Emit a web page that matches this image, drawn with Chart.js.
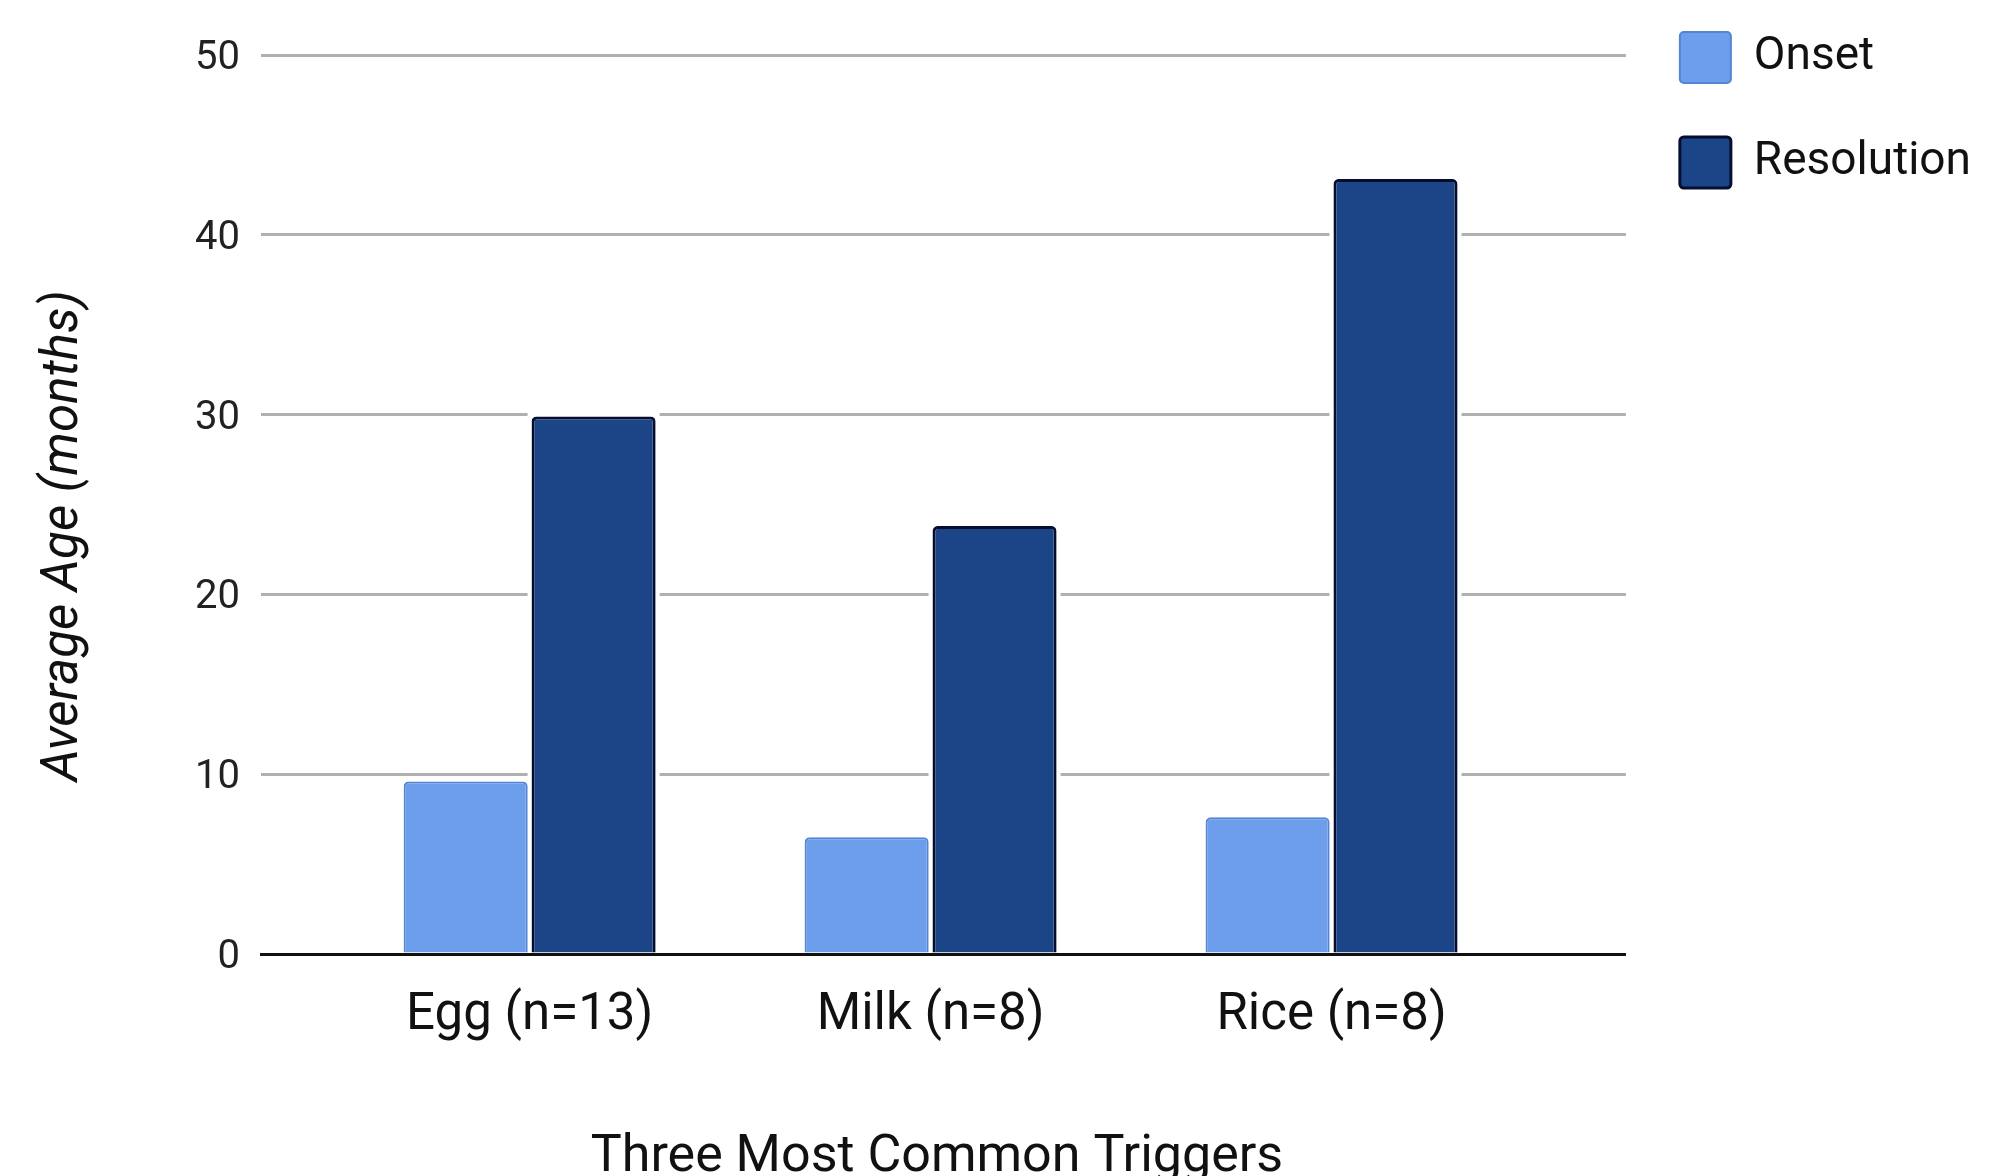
<!DOCTYPE html>
<html>
<head>
<meta charset="utf-8">
<script src="https://cdn.jsdelivr.net/npm/chart.js@4.4.1/dist/chart.umd.min.js"></script>
<style>
  html, body { margin: 0; padding: 0; background: #ffffff; }
  #frame { position: relative; width: 1999px; height: 1176px; overflow: hidden; background: #ffffff; }
  #holder { position: absolute; left: 0; top: -22px; width: 1999px; height: 1232px; }
</style>
</head>
<body>
<div id="frame"><div id="holder"><canvas id="chart"></canvas></div></div>
<script>
// Trigger foods and the mean age (months) at onset and at resolution
const categories = ['Egg (n=13)', 'Milk (n=8)', 'Rice (n=8)'];
const onsetAge = [9.6, 6.5, 7.6];
const resolutionAge = [29.9, 23.8, 43.1];
const yTicks = [0, 10, 20, 30, 40, 50];
const seriesNames = ['Onset', 'Resolution'];

const FONT = 'Roboto';

// white clearance around each bar so gridlines stop short of the bars
const barClearance = {
  id: 'barClearance',
  beforeDatasetsDraw(chart) {
    const ctx = chart.ctx;
    const gap = 4;
    ctx.save();
    ctx.fillStyle = '#ffffff';
    chart.data.datasets.forEach((ds, di) => {
      const meta = chart.getDatasetMeta(di);
      if (meta.hidden) return;
      meta.data.forEach(el => {
        const p = el.getProps(['x', 'y', 'base', 'width'], true);
        ctx.fillRect(p.x - p.width / 2 - gap, p.y - gap, p.width + gap * 2, p.base - p.y + gap - 2);
      });
    });
    ctx.restore();
  }
};

function draw() {
  const ctx = document.getElementById('chart').getContext('2d');
  new Chart(ctx, {
    type: 'bar',
    data: {
      datasets: [
        {
          label: seriesNames[0],
          data: onsetAge.map((v, i) => ({ x: i, y: v })),
          backgroundColor: '#6d9eeb',
          borderColor: '#5484d4',
          borderWidth: 2,
          borderRadius: 5,
          barPercentage: 0.97,
          categoryPercentage: 0.638
        },
        {
          label: seriesNames[1],
          data: resolutionAge.map((v, i) => ({ x: i, y: v })),
          backgroundColor: '#1c4587',
          borderColor: '#040f30',
          borderWidth: 3,
          borderRadius: 5,
          barPercentage: 0.97,
          categoryPercentage: 0.638
        }
      ]
    },
    options: {
      responsive: true,
      maintainAspectRatio: false,
      devicePixelRatio: 1,
      animation: false,
      layout: { padding: { left: 0, right: 18, top: 0, bottom: 0 } },
      scales: {
        x: {
          type: 'linear',
          offset: false,
          min: -0.670,
          max: 2.734,
          afterBuildTicks: s => { s.ticks = categories.map((c, i) => ({ value: i })); },
          afterFit: s => { s.height = 256; },
          grid: { display: false, drawTicks: false, offset: false },
          border: { display: true, color: '#111111', width: 3 },
          ticks: {
            autoSkip: false,
            maxRotation: 0,
            padding: 32,
            color: '#111111',
            font: { family: FONT, size: 51 },
            callback: v => categories[v]
          },
          title: {
            display: true,
            text: 'Three Most Common Triggers ',
            color: '#111111',
            font: { family: FONT, size: 52 },
            padding: { top: 0, bottom: 21 }
          }
        },
        y: {
          min: yTicks[0],
          max: yTicks[yTicks.length - 1],
          afterBuildTicks: s => { s.ticks = yTicks.map(v => ({ value: v })); },
          afterFit: s => { s.width = 261; },
          grid: {
            drawTicks: false,
            lineWidth: 3,
            color: c => (c.tick && c.tick.value === 0) ? 'rgba(0,0,0,0)' : '#b0b0b0'
          },
          border: { display: false },
          ticks: {
            padding: 21,
            labelOffset: 4,
            color: '#222222',
            font: { family: FONT, size: 40 }
          },
          title: {
            display: true,
            text: 'Average Age (months)     ',
            color: '#111111',
            font: { family: FONT, size: 51, style: 'italic' },
            padding: { top: 34, bottom: 0 }
          }
        }
      },
      plugins: {
        title: {
          display: true,
          text: ' ',
          font: { size: 10, lineHeight: 1 },
          padding: { top: 67, bottom: 0 }
        },
        legend: {
          position: 'right',
          align: 'start',
          labels: {
            color: '#111111',
            font: { family: FONT, size: 46 },
            boxWidth: 51,
            boxHeight: 51,
            padding: 54,
            useBorderRadius: true,
            borderRadius: 4
          }
        },
        tooltip: { enabled: false }
      }
    },
    plugins: [barClearance]
  });
}

if (document.fonts && document.fonts.load) {
  Promise.all([
    document.fonts.load('46px Roboto'),
    document.fonts.load('italic 46px Roboto')
  ]).then(draw, draw);
} else {
  draw();
}
</script>
</body>
</html>
